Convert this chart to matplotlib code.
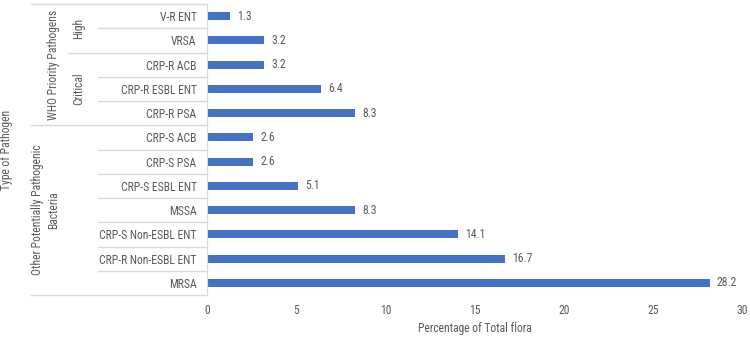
import matplotlib
matplotlib.use("Agg")
import matplotlib.pyplot as plt
from matplotlib.transforms import blended_transform_factory
from matplotlib import font_manager

# data, top row first
pathogens = ["V-R ENT", "VRSA", "CRP-R ACB", "CRP-R ESBL ENT", "CRP-R PSA",
             "CRP-S ACB", "CRP-S PSA", "CRP-S ESBL ENT", "MSSA",
             "CRP-S Non-ESBL ENT", "CRP-R Non-ESBL ENT", "MRSA"]
flora_pct = [1.3, 3.2, 3.2, 6.4, 8.3, 2.6, 2.6, 5.1, 8.3, 14.1, 16.7, 28.2]
tiers = ["High", "High", "Critical", "Critical", "Critical",
         "", "", "", "", "", "", ""]
groups = ["WHO Priority Pathogens"] * 5 + ["Other Potentially Pathogenic\nBacteria"] * 7
xticks = [0, 5, 10, 15, 20, 25, 30]

names = {f.name for f in font_manager.fontManager.ttflist}
fam = "Liberation Sans"
for cand in ["Liberation Sans Narrow", "Roboto Condensed", "Arial Narrow", "Lato"]:
    if cand in names:
        fam = cand
        break
plt.rcParams["font.family"] = [fam, "DejaVu Sans"]

TXT = "#595959"
LINE = "#D9D9D9"
BAR = "#4472C4"

W, H = 750, 337
fig = plt.figure(figsize=(7.5, 3.37), dpi=100)

# pick a size so the longest label is about as wide as in the reference (~98 px)
r = fig.canvas.get_renderer()
probe = fig.text(0, 0, "CRP-R Non-ESBL ENT", fontsize=10)
wpx = probe.get_window_extent(r).width
probe.remove()
FS = min(9.0, 10 * 98 / wpx)

ax = fig.add_axes([207 / W, 1 - 295 / H, (742 - 207) / W, (295 - 4) / H])

n = len(pathogens)
ypos = list(range(n))
ax.barh(ypos, flora_pct, height=0.33, color=BAR)
for y, v in zip(ypos, flora_pct):
    ax.annotate(f"{v}", (v, y), xytext=(5, 0), textcoords="offset points",
                va="center", ha="left", fontsize=FS, color=TXT)

ax.set_xlim(0, 30)
ax.set_ylim(n - 0.5, -0.5)
ax.set_xticks(xticks)
ax.set_xticklabels([str(t) for t in xticks])
ax.set_yticks(ypos)
ax.set_yticklabels(pathogens)
ax.tick_params(axis="both", length=0, colors=TXT, labelsize=FS)
ax.tick_params(axis="x", pad=6.5)
ax.tick_params(axis="y", pad=7.5)
for s in ["top", "right", "bottom"]:
    ax.spines[s].set_visible(False)
ax.spines["left"].set_color(LINE)
ax.set_xlabel("Percentage of Total flora", fontsize=FS, color=TXT, labelpad=3.5)

# multi-level category axis
tr = blended_transform_factory(fig.transFigure, ax.transData)
x_axis = 207 / W
for b in range(n + 1):
    yb = b - 0.5
    if b == 0 or b == n or groups[b] != groups[b - 1]:
        x0 = 31 / W
    elif tiers[b] != tiers[b - 1]:
        x0 = 68 / W
    else:
        x0 = 98 / W
    ax.plot([x0, x_axis], [yb, yb], color=LINE, lw=1, transform=tr, clip_on=False)


def spans(labels):
    out = []
    start = 0
    for i in range(1, len(labels) + 1):
        if i == len(labels) or labels[i] != labels[start]:
            out.append((labels[start], start, i - 1))
            start = i
    return out


for lab, a, b in spans(tiers):
    if lab:
        ax.text(79 / W, (a + b) / 2, lab, rotation=90, ha="center", va="center",
                fontsize=FS, color=TXT, transform=tr)
for lab, a, b in spans(groups):
    xc = 54 / W if "\n" not in lab else 46 / W
    ax.text(xc, (a + b) / 2, lab, rotation=90, ha="center", va="center",
            fontsize=FS, color=TXT, transform=tr, multialignment="center",
            linespacing=1.3)

fig.text(7 / W, 1 - 150 / H, "Type of Pathogen", rotation=90, ha="center",
         va="center", fontsize=FS, color=TXT)

fig.savefig("out.png", dpi=100, facecolor="white")
